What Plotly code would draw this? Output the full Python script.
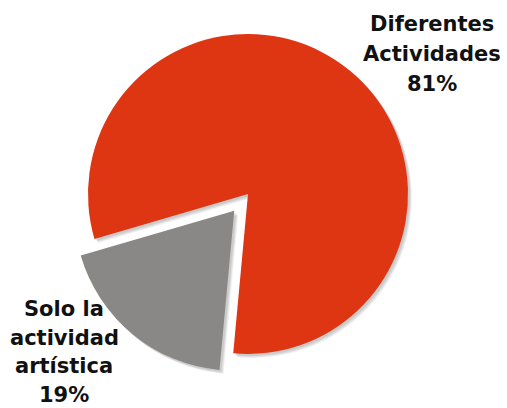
import plotly.graph_objects as go

labels = ["Diferentes<br>Actividades", "Solo la<br>actividad<br>artística"]
values = [81, 19]
colors = ["#DE3512", "#8A8886"]
pulls = [0, 0.135]

W, H = 507, 408
cx, cy = 248, 194          # pie centre (px from top-left)
r = 160
box = 2 * r * (1 + max(pulls))

def dom(dx=0, dy=0):
    x0 = (cx + dx - box / 2) / W
    x1 = (cx + dx + box / 2) / W
    y0 = (H - (cy + dy) - box / 2) / H
    y1 = (H - (cy + dy) + box / 2) / H
    return dict(x=[x0, x1], y=[y0, y1])

fig = go.Figure()
# soft shadow
for off, a in [(4, 0.06), (3, 0.08), (2, 0.08)]:
    fig.add_trace(go.Pie(
        labels=labels, values=values, sort=False, direction="clockwise",
        rotation=253.7 - 360, pull=pulls, textinfo="none", hoverinfo="skip",
        marker=dict(colors=[f"rgba(0,0,0,{a})"] * 2, line=dict(width=0)),
        domain=dom(off, off), showlegend=False))
fig.add_trace(go.Pie(
    labels=labels, values=values, sort=False, direction="clockwise",
    rotation=253.7 - 360, pull=pulls, textinfo="none",
    marker=dict(colors=colors, line=dict(width=0)),
    domain=dom(), showlegend=False))

# label block: (centre x, first line centre y, line spacing) in px
label_pos = [(432, 24, 30), (64, 309, 28.5)]
for lab, v, (lx, ly, sp) in zip(labels, values, label_pos):
    lines = lab.split("<br>") + [f"{v}%"]
    for i, line in enumerate(lines):
        fig.add_annotation(
            x=lx / W, y=(H - (ly + i * sp)) / H, xref="paper", yref="paper",
            text=line, showarrow=False, align="center",
            xanchor="center", yanchor="middle",
            font=dict(family="DejaVu Sans", size=21, color="#111111", weight="bold"))

fig.update_layout(
    width=W, height=H, margin=dict(l=0, r=0, t=0, b=0),
    paper_bgcolor="white", plot_bgcolor="white", showlegend=False)

fig.write_html("out.html")
